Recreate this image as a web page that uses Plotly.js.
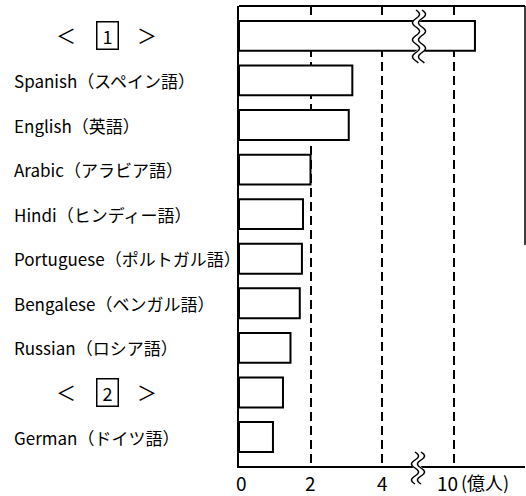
<!DOCTYPE html>
<html>
<head>
<meta charset="utf-8">
<script src="https://cdn.plot.ly/plotly-3.0.1.min.js"></script>
<style>html,body{margin:0;padding:0;background:#fff;}#chart{width:526px;height:496px;}</style>
</head>
<body>
<div id="chart"></div>
<script>
// ---- data ----
const categories = ['<1>', 'Spanish（スペイン語）', 'English（英語）', 'Arabic（アラビア語）', 'Hindi（ヒンディー語）',
  'Portuguese（ポルトガル語）', 'Bengalese（ベンガル語）', 'Russian（ロシア語）', '<2>', 'German（ドイツ語）'];
const values = [10.6, 3.17, 3.07, 2.0, 1.79, 1.76, 1.70, 1.44, 1.23, 0.95];   // 億人
const groupRows = ['<1>', '<2>'];
const groupNumbers = ['1', '2'];
const tickValues = [0, 2, 4, 10];
const tickLabels = ['0', '2', '4', '10'];
const unitLabel = '(億人)';
const breakLow = 4, breakHigh = 10;

// ---- broken-axis mapping ----
function toDisplay(v) {
  if (v <= breakLow) return v;
  if (v >= breakHigh) return v - (breakHigh - breakLow) + 2;
  return breakLow + (v - breakLow) * 2 / (breakHigh - breakLow);
}

const FONT = "'Noto Sans CJK JP', 'Noto Sans', sans-serif";
const W = 526, H = 496;
const M = {l: 239, r: 1, t: 6, b: 30};
const PW = W - M.l - M.r, PH = H - M.t - M.b;
const px2x = px => (px - M.l) / PW;
const px2y = py => (H - M.b - py) / PH;

// ---- squiggle (axis break) shapes ----
function wavePath(cx, y0, y1, amp, period, off) {
  let d = '';
  for (let py = y0; py <= y1 + 0.01; py += 0.5) {
    const x = cx + off + amp * Math.sin(2 * Math.PI * (py - y0) / period);
    d += (d ? ' L ' : 'M ') + px2x(x).toFixed(5) + ',' + px2y(py).toFixed(5);
  }
  return d;
}
function squiggle(cx, y0, y1, amp, period) {
  return [
    {type: 'path', xref: 'paper', yref: 'paper', path: wavePath(cx, y0, y1, amp, period, 0), line: {color: 'white', width: 6}},
    {type: 'path', xref: 'paper', yref: 'paper', path: wavePath(cx, y0, y1, amp, period, -3), line: {color: 'black', width: 1.5}},
    {type: 'path', xref: 'paper', yref: 'paper', path: wavePath(cx, y0, y1, amp, period, 3), line: {color: 'black', width: 1.5}}
  ];
}

const trace = {
  type: 'bar', orientation: 'h',
  x: values.map(toDisplay), y: categories,
  width: 0.67,
  marker: {color: 'white', line: {color: 'black', width: 2}},
  hoverinfo: 'none'
};

const annotations = [];
categories.forEach(c => {
  const gi = groupRows.indexOf(c);
  if (gi < 0) {
    annotations.push({xref: 'paper', yref: 'y', x: px2x(12), y: c, xanchor: 'left', yanchor: 'middle',
      text: c, showarrow: false, font: {family: FONT, size: 17, color: 'black'}});
  } else {
    annotations.push({xref: 'paper', yref: 'y', x: px2x(66), y: c, xanchor: 'center', yanchor: 'middle',
      text: '＜', showarrow: false, font: {family: FONT, size: 20, color: 'black'}});
    annotations.push({xref: 'paper', yref: 'y', x: px2x(107), y: c, xanchor: 'center', yanchor: 'middle',
      text: groupNumbers[gi], showarrow: false, width: 16, height: 22, borderpad: 2, borderwidth: 1.5,
      bordercolor: 'black', font: {family: FONT, size: 18, color: 'black'}});
    annotations.push({xref: 'paper', yref: 'y', x: px2x(147), y: c, xanchor: 'center', yanchor: 'middle',
      text: '＞', showarrow: false, font: {family: FONT, size: 20, color: 'black'}});
  }
});
// x tick labels placed through the x scale
tickValues.forEach((v, i) => {
  const last = i === tickValues.length - 1;
  annotations.push({xref: 'x', yref: 'paper', x: toDisplay(v), y: px2y(482), xanchor: 'center', yanchor: 'middle',
    xshift: last ? -6 : (i === 0 ? 2 : 0),
    text: tickLabels[i], showarrow: false, font: {family: FONT, size: 19, color: 'black'}});
});
annotations.push({xref: 'paper', yref: 'paper', x: px2x(459), y: px2y(482), xanchor: 'left', yanchor: 'middle',
  text: unitLabel, showarrow: false, font: {family: FONT, size: 18, color: 'black'}});

const shapes = [
  {type: 'line', xref: 'paper', yref: 'paper', x0: 0, x1: 1, y0: 1, y1: 1, line: {color: 'black', width: 2}},
  {type: 'line', xref: 'paper', yref: 'paper', x0: 1, x1: 1, y0: 1, y1: px2y(245), line: {color: 'black', width: 1.5}},
  ...squiggle(419, 10, 63, 3.5, 17),
  ...squiggle(418, 452, 484, 3.5, 16)
];

const layout = {
  width: W, height: H,
  margin: {l: M.l, r: M.r, t: M.t, b: M.b, pad: 0},
  paper_bgcolor: 'white', plot_bgcolor: 'white',
  showlegend: false,
  xaxis: {
    range: [0, 8.0],
    tickmode: 'array', tickvals: tickValues.map(toDisplay), ticktext: tickLabels,
    showticklabels: false,
    showgrid: true, gridcolor: 'black', gridwidth: 2, griddash: '9px,5px',
    zeroline: false, showline: true, linecolor: 'black', linewidth: 2,
    ticks: '', fixedrange: true
  },
  yaxis: {
    type: 'category', categoryorder: 'array', categoryarray: categories,
    range: [9.65, -0.67],
    showticklabels: false, showgrid: false, zeroline: false,
    showline: true, linecolor: 'black', linewidth: 2, ticks: '', fixedrange: true
  },
  annotations: annotations,
  shapes: shapes
};

Plotly.newPlot('chart', [trace], layout, {displayModeBar: false, staticPlot: true});
</script>
</body>
</html>
